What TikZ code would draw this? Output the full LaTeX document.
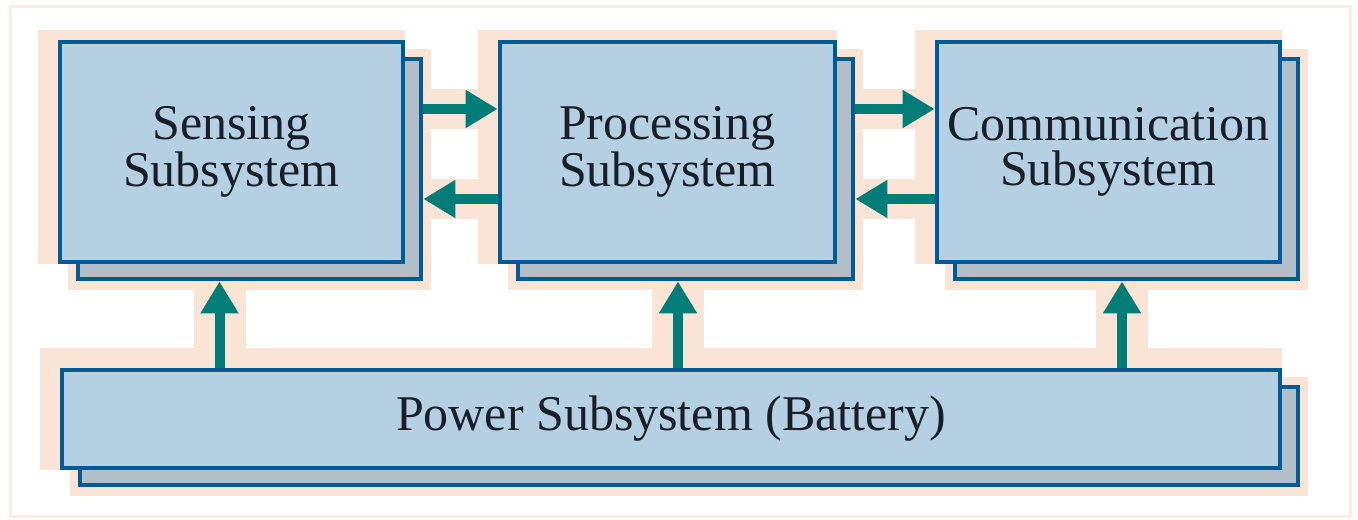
\documentclass[tikz,border=0pt]{standalone}
\usepackage{fontspec}
\setmainfont{Liberation Serif}
\usetikzlibrary{arrows.meta,shadows,backgrounds}
\definecolor{boxblue}{RGB}{181,208,226}
\definecolor{edgeblue}{RGB}{0,90,150}
\definecolor{backgrey}{RGB}{178,190,200}
\definecolor{flowteal}{RGB}{0,125,118}
\definecolor{peach}{RGB}{250,228,214}
\definecolor{framepeach}{RGB}{251,236,228}
\definecolor{inkgrey}{RGB}{25,30,40}

\begin{document}
\begin{tikzpicture}[x=0.5pt,y=-0.5pt,
  block/.style={draw=edgeblue,line width=2.4pt,fill=boxblue,align=center,text=inkgrey,
    font=\fontsize{25}{22.5}\selectfont,
    general shadow={fill=backgrey,draw=edgeblue,line width=2.4pt,shadow xshift=9pt,shadow yshift=-8.5pt}},
  flow/.style={draw=flowteal,line width=5pt,-{Triangle[length=16pt,width=18pt]}},
  halo/.style={fill=peach},
  haloline/.style={draw=peach,line width=#1}]
  \useasboundingbox (0,0) rectangle (1358,519);
  % outer frame
  \draw[framepeach,line width=1.5pt] (10,7) rectangle (1350,516);
  % subsystems
  \node[block,minimum width=171.5pt,minimum height=110pt] (sens) at (231.5,152) {Sensing\\Subsystem};
  \node[block,minimum width=167.5pt,minimum height=110pt] (proc) at (667.5,152) {Processing\\Subsystem};
  \node[block,minimum width=171.5pt,minimum height=110pt] (comm) at (1108.5,152) {Communication\\Subsystem};
  \node[block,minimum width=609pt,minimum height=49pt] (power) at (671,419) {Power Subsystem (Battery)};
  % data flow between the top blocks
  \draw[flow] ([xshift=9pt,yshift=21.5pt]sens.east) -- ([yshift=21.5pt]proc.west);
  \draw[flow] ([yshift=-23.5pt]proc.west) -- ([xshift=9pt,yshift=-23.5pt]sens.east);
  \draw[flow] ([xshift=9pt,yshift=21.5pt]proc.east) -- ([yshift=21.5pt]comm.west);
  \draw[flow] ([yshift=-23.5pt]comm.west) -- ([xshift=9pt,yshift=-23.5pt]proc.east);
  % power supply
  \draw[flow] ([xshift=-6pt]power.north -| sens.south) -- ([xshift=-6pt,yshift=-8.5pt]sens.south);
  \draw[flow] ([xshift=5.25pt]power.north -| proc.south) -- ([xshift=5.25pt,yshift=-8.5pt]proc.south);
  \draw[flow] ([xshift=6.75pt]power.north -| comm.south) -- ([xshift=6.75pt,yshift=-8.5pt]comm.south);
  % peach glow behind everything
  \begin{scope}[on background layer]
    \foreach \b/\t in {sens/5pt,proc/5pt,comm/5pt,power/10pt}{
      \fill[halo] ([xshift=-10pt,yshift=\t]\b.north west) rectangle (\b.south east);
      \fill[halo] ([xshift=5pt,yshift=-4.5pt]\b.north west) rectangle ([xshift=13pt,yshift=-13pt]\b.south east);
    }
    \foreach \a/\c in {sens/proc,proc/comm}{
      \draw[haloline=20pt] ([xshift=9pt,yshift=21.5pt]\a.east) -- ([yshift=21.5pt]\c.west);
      \draw[haloline=20pt] ([xshift=9pt,yshift=-23.5pt]\a.east) -- ([yshift=-23.5pt]\c.west);
    }
    \foreach \b/\s in {sens/-6pt,proc/5.25pt,comm/6.75pt}
      \draw[haloline=26pt] ([xshift=\s]power.north -| \b.south) -- ([xshift=\s,yshift=-8.5pt]\b.south);
  \end{scope}
\end{tikzpicture}
\end{document}
